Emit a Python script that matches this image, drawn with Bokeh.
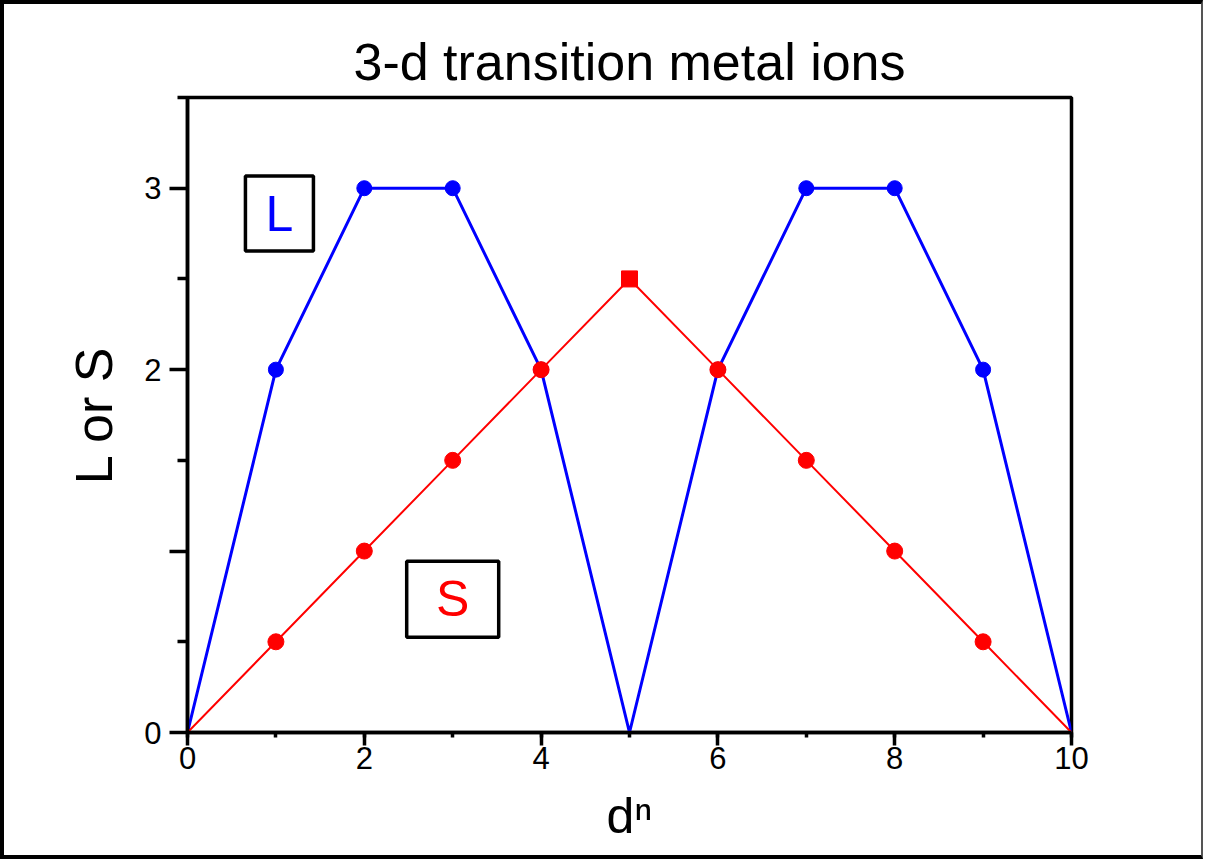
from bokeh.plotting import figure
from bokeh.models import ColumnDataSource, Range1d, FixedTicker, CDSView, IndexFilter
from bokeh.core.properties import value
from bokeh.embed import file_html
from bokeh.resources import INLINE

# Number of d electrons and the ground-state L and S values
n_electrons = [0, 1, 2, 3, 4, 5, 6, 7, 8, 9, 10]
L_values = [0, 2, 3, 3, 2, 0, 2, 3, 3, 2, 0]
S_values = [0, 0.5, 1, 1.5, 2, 2.5, 2, 1.5, 1, 0.5, 0]

x_major_ticks = [0, 2, 4, 6, 8, 10]
y_major_ticks = [0, 1, 2, 3]
y_tick_labels = {0: "0", 1: "", 2: "2", 3: "3"}

FONT = "Liberation Sans"
BLUE = "#0000ff"
RED = "#ff0000"

src = ColumnDataSource(dict(n=n_electrons, L=L_values, S=S_values))

p = figure(
    width=1203, height=859,
    output_backend="svg", toolbar_location=None,
    x_range=Range1d(0, 10), y_range=Range1d(0, 3.5),
    min_border_left=183, min_border_right=136,
    min_border_top=93, min_border_bottom=131,
    title="3-d transition metal ions",
)
p.styles = {"border": "4px solid black", "border-right": "2px solid #555555"}

p.title.align = "center"
p.title.text_font = FONT
p.title.text_font_size = "52px"
p.title.text_font_style = "normal"
p.title.text_color = "black"
p.title.standoff = 14

p.grid.visible = False
p.outline_line_color = "black"
p.outline_line_width = 3.5
p.outline_line_alpha = 1.0

# x axis
xa = p.xaxis[0]
xa.ticker = FixedTicker(ticks=x_major_ticks, minor_ticks=n_electrons)
xa.axis_label = "dⁿ"
xa.axis_label_text_font = FONT
xa.axis_label_text_font_size = "50px"
xa.axis_label_text_font_style = "normal"
xa.axis_label_text_color = "black"
xa.axis_label_standoff = 16
xa.major_label_text_font = FONT
xa.major_label_text_font_size = "31px"
xa.major_label_text_color = "black"
xa.major_label_standoff = 1
xa.major_tick_out = 13
xa.major_tick_in = 0
xa.minor_tick_out = 5
xa.minor_tick_in = 0
xa.axis_line_width = 3.5
xa.major_tick_line_width = 3.5
xa.minor_tick_line_width = 3.5

# y axis
ya = p.yaxis[0]
ya.ticker = FixedTicker(ticks=y_major_ticks, minor_ticks=[0.5, 1.5, 2.5, 3.5])
ya.major_label_overrides = y_tick_labels
ya.axis_label = "L or S"
ya.axis_label_text_font = FONT
ya.axis_label_text_font_size = "52px"
ya.axis_label_text_font_style = "normal"
ya.axis_label_text_color = "black"
ya.axis_label_standoff = 18
ya.major_label_text_font = FONT
ya.major_label_text_font_size = "31px"
ya.major_label_text_color = "black"
ya.major_label_standoff = 8
ya.major_tick_out = 18
ya.major_tick_in = 0
ya.minor_tick_out = 10
ya.minor_tick_in = 0
ya.axis_line_width = 3.5
ya.major_tick_line_width = 3.5
ya.minor_tick_line_width = 3.5

# L curve
p.line("n", "L", source=src, line_color=BLUE, line_width=3)
l_marks = CDSView(filter=IndexFilter([1, 2, 3, 4, 6, 7, 8, 9]))
p.scatter("n", "L", source=src, view=l_marks, marker="circle", size=15,
          fill_color=BLUE, line_color=BLUE)

# S curve
p.line("n", "S", source=src, line_color=RED, line_width=2)
s_marks = CDSView(filter=IndexFilter([1, 2, 3, 4, 6, 7, 8, 9]))
p.scatter("n", "S", source=src, view=s_marks, marker="circle", size=16,
          fill_color=RED, line_color=RED)
s_peak = CDSView(filter=IndexFilter([5]))
p.scatter("n", "S", source=src, view=s_peak, marker="square", size=16,
          fill_color=RED, line_color=RED)

# Boxed curve labels
key_src = ColumnDataSource(dict(
    x=[1.04, 3.0], y=[2.86, 0.735],
    w=[68, 92], h=[75, 76],
    txt=["L", "S"], col=[BLUE, RED],
))
p.rect("x", "y", width="w", height="h", width_units="screen", height_units="screen",
       source=key_src, fill_color="white", line_color="black", line_width=3.5)
p.text("x", "y", text="txt", source=key_src, text_color="col",
       text_font=value(FONT), text_font_size="50px",
       text_align="center", text_baseline="middle")

open("out.html", "w").write(file_html(p, INLINE))
